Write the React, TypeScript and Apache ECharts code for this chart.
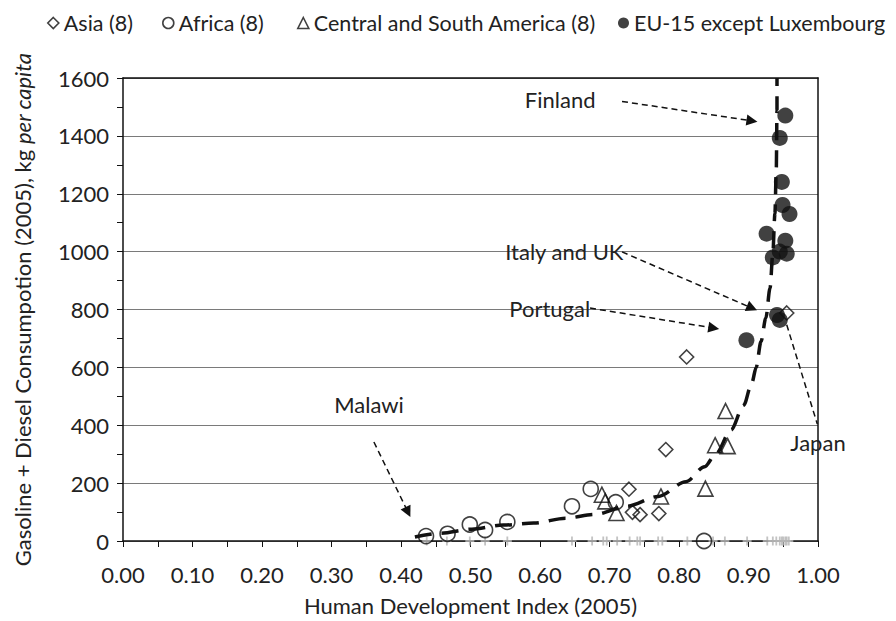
import React, { useEffect, useRef } from "react";
import * as echarts from "echarts";

// ---- Data ----
const asiaHDI = [0.955, 0.811, 0.781, 0.728, 0.733, 0.744, 0.771];
const asiaVal = [788, 636, 316, 179, 99, 91, 95];

const africaHDI = [0.436, 0.467, 0.499, 0.521, 0.553, 0.646, 0.673, 0.709, 0.836];
const africaVal = [17, 25, 57, 38, 66, 120, 180, 134, 0];

const csaHDI = [0.867, 0.852, 0.870, 0.838, 0.689, 0.694, 0.710, 0.774];
const csaVal = [449, 331, 328, 181, 160, 137, 97, 154];

const euHDI = [0.953, 0.945, 0.948, 0.949, 0.959, 0.926, 0.953, 0.955, 0.935, 0.945, 0.941, 0.945, 0.897];
const euVal = [1470, 1393, 1241, 1161, 1130, 1062, 1038, 993, 980, 1000, 781, 764, 694];

const hdiTicksHDI = [0.437, 0.466, 0.499, 0.521, 0.553, 0.646, 0.675, 0.691, 0.696, 0.711, 0.729, 0.740, 0.744, 0.770, 0.776, 0.812, 0.849, 0.866, 0.898, 0.927, 0.935, 0.940, 0.945, 0.948, 0.950, 0.953, 0.955, 0.958];

const trendHDI = [0.420, 0.456, 0.502, 0.547, 0.591, 0.637, 0.679, 0.725, 0.770, 0.810, 0.837, 0.853, 0.875, 0.893, 0.905, 0.911, 0.918, 0.925, 0.931, 0.935, 0.938, 0.940, 0.941, 0.941];
const trendVal = [14, 27, 41, 55, 62, 79, 92, 120, 154, 205, 257, 301, 384, 469, 548, 600, 689, 771, 874, 993, 1131, 1285, 1490, 1600];

const xTicks = { min: 0, max: 1, interval: 0.1 };
const yTicks = { min: 0, max: 1600, interval: 200 };

// annotations: [label, labelX, labelY]
const annoLabels: [string, number, number][] = [
  ["Finland", 0.629, 1524],
  ["Italy and UK", 0.635, 1000],
  ["Portugal", 0.614, 802],
  ["Malawi", 0.354, 473],
  ["Japan", 1.0, 342],
];
// arrows: [x1, y1, x2, y2, hasHead]
const annoArrows: [number, number, number, number, boolean][] = [
  [0.718, 1519, 0.905, 1452, true],
  [0.718, 999, 0.905, 805, true],
  [0.672, 805, 0.850, 736, true],
  [0.361, 342, 0.410, 100, true],
  [0.955, 747, 0.999, 404, false],
];

const FONT = "Lato";
const TXT = "#222";
const FS = 22;

const zip = (a: number[], b: number[]) => a.map((v, i) => [v, b[i]]);

export default function App() {
  const ref = useRef<HTMLDivElement>(null);
  useEffect(() => {
    if (!ref.current) return;
    const chart = echarts.init(ref.current, undefined, { renderer: "svg" });
    const hollow = { color: "rgba(255,255,255,0)", borderColor: "#111", borderWidth: 1.6 };
    const filled = { color: "#111", borderColor: "#111", borderWidth: 0 };
    const legendText = { fontFamily: FONT, fontSize: 21.5, color: TXT };
    const mkLegend = (name: string, left: number, icon: string, st: any) => ({
      left,
      top: 12,
      itemWidth: 11,
      itemHeight: 11,
      itemGap: 0,
      padding: 0,
      width: 900,
      textStyle: legendText,
      data: [{ name, icon, itemStyle: st }],
    });
    const plusPath = "path://M4,0 H6 V4 H10 V6 H6 V10 H4 V6 H0 V4 H4 Z";
    const borderAxis = {
      show: true,
      axisLine: { show: true, onZero: false, lineStyle: { color: "#111", width: 1.5 } },
      axisTick: { show: false },
      axisLabel: { show: false },
      splitLine: { show: false },
    };
    chart.setOption({
      animation: false,
      backgroundColor: "#fff",
      legend: [
        mkLegend("Asia (8)", 47, "diamond", hollow),
        mkLegend("Africa (8)", 162, "circle", hollow),
        mkLegend("Central and South America (8)", 297, "triangle", hollow),
        mkLegend("EU-15 except Luxembourg", 618, "circle", filled),
      ],
      grid: { left: 123, right: 78, top: 78, bottom: 76, show: false },
      xAxis: [
        {
          type: "value",
          ...xTicks,
          name: "Human Development Index (2005)",
          nameLocation: "middle",
          nameGap: 53,
          nameTextStyle: { fontFamily: FONT, fontSize: FS, color: TXT },
          axisLine: { show: true, onZero: false, lineStyle: { color: "#111", width: 1.5 } },
          axisTick: { show: true, inside: false, length: 6, lineStyle: { color: "#111", width: 1 } },
          minorTick: { show: true, splitNumber: 2, length: 6, lineStyle: { color: "#111", width: 1 } },
          splitLine: { show: false },
          axisLabel: {
            fontFamily: FONT,
            fontSize: FS,
            color: TXT,
            margin: 22,
            formatter: (v: number) => v.toFixed(2),
          },
        },
        { type: "value", position: "top", ...xTicks, ...borderAxis },
      ],
      yAxis: [
        {
          type: "value",
          ...yTicks,
          name: "Gasoline + Diesel Consumpotion (2005), kg {i|per capita}",
          nameLocation: "middle",
          nameGap: 90,
          nameTextStyle: {
            fontFamily: FONT,
            fontSize: FS,
            color: TXT,
            rich: { i: { fontFamily: FONT, fontSize: FS, color: TXT, fontStyle: "italic" } },
          },
          axisLine: { show: true, onZero: false, lineStyle: { color: "#111", width: 1.5 } },
          axisTick: { show: true, inside: false, length: 6, lineStyle: { color: "#111", width: 1 } },
          minorTick: { show: true, splitNumber: 2, length: 6, lineStyle: { color: "#111", width: 1 } },
          splitLine: { show: true, lineStyle: { color: "#7a7a7a", width: 1.2, type: "solid" } },
          axisLabel: {
            fontFamily: FONT,
            fontSize: FS,
            color: TXT,
            margin: 14,
            formatter: (v: number) => String(v),
          },
        },
        { type: "value", position: "right", ...yTicks, ...borderAxis },
      ],
      series: [
        {
          name: "HDI",
          type: "scatter",
          symbol: plusPath,
          symbolSize: 9,
          itemStyle: { color: "#b4b4b4" },
          data: hdiTicksHDI.map((x) => [x, 0]),
          z: 1,
        },
        {
          name: "Asia (8)",
          type: "scatter",
          symbol: "diamond",
          symbolSize: 14,
          itemStyle: hollow,
          data: zip(asiaHDI, asiaVal),
          z: 3,
        },
        {
          name: "Africa (8)",
          type: "scatter",
          symbol: "circle",
          symbolSize: 15,
          itemStyle: hollow,
          data: zip(africaHDI, africaVal),
          z: 3,
        },
        {
          name: "Central and South America (8)",
          type: "scatter",
          symbol: "triangle",
          symbolSize: 15,
          itemStyle: hollow,
          data: zip(csaHDI, csaVal),
          z: 3,
        },
        {
          name: "EU-15 except Luxembourg",
          type: "scatter",
          symbol: "circle",
          symbolSize: 16,
          itemStyle: filled,
          data: zip(euHDI, euVal),
          z: 3,
        },
        {
          name: "trend",
          type: "line",
          data: zip(trendHDI, trendVal),
          showSymbol: false,
          symbol: "none",
          smooth: 0.3,
          smoothMonotone: "x",
          lineStyle: { color: "#111", width: 3.5, type: [17, 10] },
          z: 4,
          silent: true,
        },
        {
          name: "annotations",
          type: "scatter",
          data: [],
          silent: true,
          markLine: {
            silent: true,
            symbolSize: 11,
            label: { show: false },
            lineStyle: { color: "#111", width: 1.5, type: [6, 4] },
            emphasis: { disabled: true },
            data: annoArrows.map(([x1, y1, x2, y2, head]) => [
              { coord: [x1, y1], symbol: "none" },
              { coord: [x2, y2], symbol: head ? "triangle" : "none" },
            ]),
          },
          markPoint: {
            silent: true,
            symbol: "circle",
            symbolSize: 0,
            itemStyle: { color: "transparent" },
            label: {
              show: true,
              position: "inside",
              fontFamily: FONT,
              fontSize: FS,
              color: TXT,
            },
            data: annoLabels.map(([t, x, y]) => ({
              name: t,
              coord: [x, y],
              label: { formatter: t },
            })),
          },
        },
      ],
    });
    return () => chart.dispose();
  }, []);
  return (
    <div
      ref={ref}
      style={{ position: "absolute", left: 0, top: 0, width: 896, height: 621 }}
    />
  );
}
